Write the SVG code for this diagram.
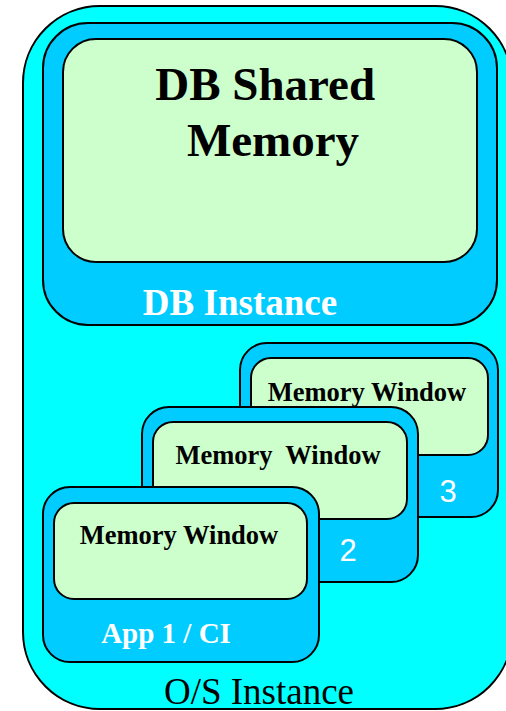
<svg xmlns="http://www.w3.org/2000/svg" width="506" height="711" viewBox="0 0 506 711">
  <style>
    .os { fill: #00FFFF; stroke: #000; stroke-width: 2; }
    .inst { fill: #00CCFF; stroke: #000; stroke-width: 2; }
    .mem { fill: #CCFFCC; stroke: #000; stroke-width: 2; }
    .serif { font-family: "Liberation Serif", "Times New Roman", serif; text-anchor: middle; }
    .bold { font-weight: bold; }
    .dark { fill: #000; }
    .light { fill: #FFF; }
    .num { font-family: "Liberation Sans", Arial, sans-serif; font-size: 31px; fill: #FFF; text-anchor: middle; }
  </style>

  <!-- Operating system instance -->
  <g id="os-instance">
    <rect class="os" x="23" y="6" width="489" height="703" rx="77" ry="77"/>
    <text class="serif dark" x="259" y="704" font-size="37">O/S Instance</text>
  </g>

  <!-- Database instance with its shared memory -->
  <g id="db-instance">
    <rect class="inst" x="43" y="23" width="454" height="302" rx="45" ry="45"/>
    <text class="serif bold light" x="240" y="315" font-size="37">DB Instance</text>
  </g>
  <g id="db-shared-memory">
    <rect class="mem" x="63" y="39" width="414" height="223" rx="33" ry="33"/>
    <text class="serif bold dark" font-size="47">
      <tspan x="271" y="100">DB Shared</tspan>
      <tspan x="273" y="156">Memory</tspan>
    </text>
  </g>

  <!-- Application instances, back to front -->
  <g id="app-3">
    <rect class="inst" x="240" y="343" width="258" height="174" rx="27" ry="27"/>
    <rect class="mem" x="251" y="358" width="237" height="97" rx="20" ry="20"/>
    <text class="serif bold dark" x="367" y="401" font-size="26.5">Memory Window</text>
    <text class="num" x="448" y="502">3</text>
  </g>

  <g id="app-2">
    <rect class="inst" x="142" y="407" width="276" height="175" rx="27" ry="27"/>
    <rect class="mem" x="153" y="422" width="254" height="97" rx="20" ry="20"/>
    <text class="serif bold dark" x="278" y="464" font-size="26.5" xml:space="preserve">Memory  Window</text>
    <text class="num" x="348" y="561">2</text>
  </g>

  <g id="app-1">
    <rect class="inst" x="43" y="487" width="276" height="175" rx="27" ry="27"/>
    <rect class="mem" x="54" y="503" width="253" height="96" rx="20" ry="20"/>
    <text class="serif bold dark" x="179" y="544" font-size="26.5">Memory Window</text>
    <text class="serif bold light" x="166" y="643" font-size="29">App 1 / CI</text>
  </g>

  <g id="connectors"/>
</svg>
